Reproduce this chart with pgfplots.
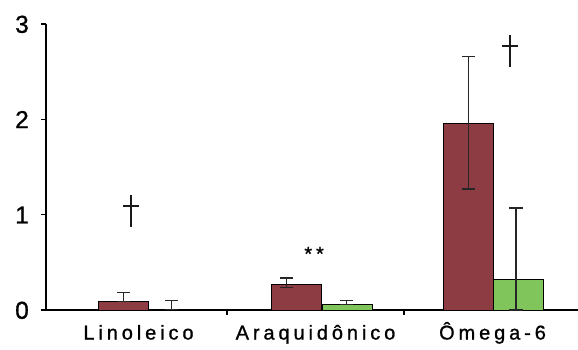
\documentclass[border=0pt]{standalone}
\usepackage{pgfplots}
\pgfplotsset{compat=1.18}
\usepackage{fontspec}
\setmainfont{Liberation Sans}
\newfontfamily\labfont{Liberation Sans}[LetterSpace=19.5, FakeBold=1]
\newfontfamily\numfont{Liberation Sans}[FakeBold=1]
\definecolor{barred}{RGB}{140,60,66}
\definecolor{bargreen}{RGB}{128,196,92}
\definecolor{dagcol}{RGB}{25,25,25}
% thin dagger sign built from rules
\newcommand\thindag{\textcolor{dagcol}{\hbox to 16pt{\hss\rule{1.6pt}{31.7pt}\hss}\kern-16pt\raisebox{20.2pt}{\rule{16pt}{1.5pt}}}}
\begin{document}
\begin{tikzpicture}
\useasboundingbox (-46pt,-39pt) rectangle (532pt,310pt);
\begin{axis}[
  at={(0pt,0pt)}, anchor=south west,
  scale only axis, width=532pt, height=286pt,
  xmin=-0.0226, xmax=2.983, ymin=0, ymax=3,
  axis lines=left, axis line style={-, line width=2pt, black},
  clip=false,
  /pgf/number format/assume math mode=true,
  xtick={0.5,1.5,2.5},
  xticklabels={Linoleico,Araquid\^onico,\^Omega-6},
  minor xtick={1,2},
  major x tick style={draw=none},
  minor x tick style={black, line width=1.3pt},
  minor tick length=5pt,
  ytick={0,1,2,3}, yticklabels={0,1,2,3},
  tick align=outside,
  major tick length=5pt,
  y tick style={black, line width=1.3pt},
  xticklabel style={font=\labfont\fontsize{20}{24}\selectfont, anchor=north, inner sep=0pt, text height=14.3pt, text depth=0pt, yshift=-10pt},
  yticklabel style={font=\numfont\fontsize{24.5}{30}\selectfont, anchor=east, inner sep=0pt, text height=17.5pt, text depth=0pt, xshift=-12pt},
]
% bars: series 1 (red)
\addplot[ybar, bar shift=0pt, bar width=0.2825, fill=barred, draw=black, line width=1pt]
  coordinates {(0.418,0.09) (1.395,0.265) (2.364,1.96)};
% bars: series 2 (green)
\addplot[ybar, bar shift=0pt, bar width=0.2825, fill=bargreen, draw=black, line width=1pt]
  coordinates {(0.70,0.005) (1.678,0.061) (2.647,0.325)};
% error bars
\addplot[draw=none, mark=none, forget plot,
  error bars/.cd, y dir=both, y explicit,
  error bar style={draw=black!85, line width=1.3pt},
  error mark options={rotate=90, mark size=6.7pt, line width=1.3pt, draw=black!85}]
  table[x=x, y=y, y error plus=ep, y error minus=em] {
x y ep em
0.416 0.09 0.095 0
0.688 0.005 0.098 0
1.337 0.265 0.07 0.03
1.676 0.061 0.042 0
2.363 1.96 0.70 0.69
2.633 0.325 0.745 0.325
};
\node[inner sep=0pt] at (axis cs:0.458,1.04) {\thindag};
\node[inner sep=0pt] at (axis cs:2.599,2.718) {\thindag};
\node[font=\labfont\fontsize{20}{24}\selectfont, inner sep=0pt] at (axis cs:1.492,0.59) {**};
\end{axis}
\end{tikzpicture}
\end{document}
